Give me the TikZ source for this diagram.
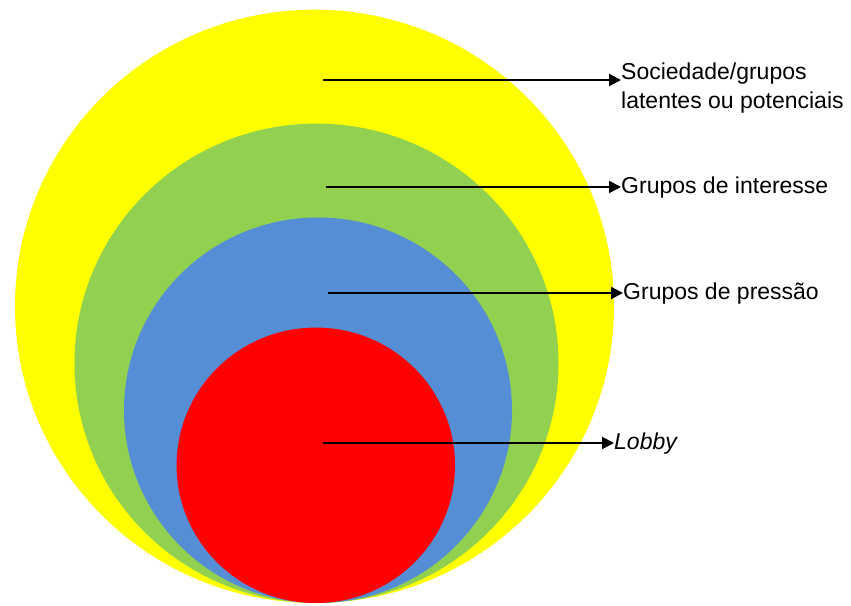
\documentclass[tikz,border=0pt]{standalone}
\usepackage{fontspec}
\setmainfont{Liberation Sans}
\usepackage{tikz}
\usetikzlibrary{arrows.meta}
\definecolor{soc}{RGB}{255,255,0}
\definecolor{inter}{RGB}{146,208,80}
\definecolor{press}{RGB}{85,142,213}
\definecolor{lob}{RGB}{255,0,0}
\begin{document}
\begin{tikzpicture}[x=1pt,y=1pt,
    lbl/.style={anchor=west,inner sep=0pt,align=left,font=\fontsize{23}{29}\selectfont},
    pointer/.style={line width=2pt,-{Triangle[length=12pt,width=12pt]}}]
          \useasboundingbox (0,0) rectangle (851,605);

          % Sociedade
          \fill[soc] (314.5,298.7) ellipse (299.5 and 296.6);

          % Grupos de interesse
          \fill[inter] (316.5,241.7) ellipse (242 and 239.7);

          % Grupos de pressao
          \fill[press] (318,194.8) ellipse (194 and 192.7);

          % Lobby
          \fill[lob] (315.8,139.7) ellipse (139.2 and 137.7);

          \node[lbl] (l1) at (621,517) {Sociedade/grupos\\latentes ou potenciais};
          \coordinate (s1) at (323,525);
          \draw[pointer] (s1) -- (s1 -| l1.west);

          \node[lbl] (l2) at (621,417) {Grupos de interesse};
          \coordinate (s2) at (326,418);
          \draw[pointer] (s2) -- (s2 -| l2.west);

          \node[lbl] (l3) at (623,311) {Grupos de pressão};
          \coordinate (s3) at (328,312);
          \draw[pointer] (s3) -- (s3 -| l3.west);

          \node[lbl] (l4) at (614,161) {\itshape Lobby};
          \coordinate (s4) at (323,162);
          \draw[pointer] (s4) -- (s4 -| l4.west);

        \end{tikzpicture}
\end{document}
